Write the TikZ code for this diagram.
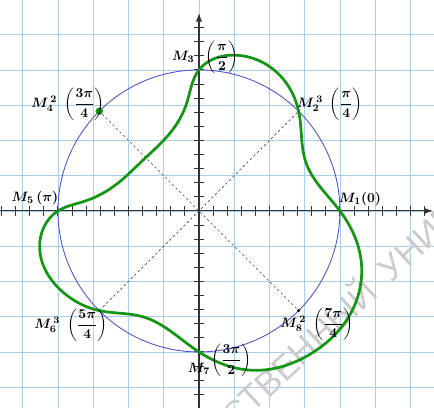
\documentclass[tikz,border=0pt]{standalone}
\usepackage{fontspec}
\usepackage{amsmath}
\usetikzlibrary{positioning, arrows.meta, calc, hobby}
\newfontfamily\wmfont{Liberation Sans}
\definecolor{gridblue}{RGB}{168,206,238}
\definecolor{curvegreen}{RGB}{20,150,20}
\definecolor{circblue}{RGB}{80,80,210}

\begin{document}
\begin{tikzpicture}[
    x=0.4cm, y=0.4cm,
    pt/.style={circle, fill=black, inner sep=0pt, minimum size=2.6pt},
    lbl/.style={font=\fontsize{11}{13}\selectfont\boldmath, inner sep=0pt},
    axis/.style={-{Latex[length=7pt,width=5pt]}, line width=0.9pt, black!80},
    tick/.style={line width=0.8pt, black!80},
    diag/.style={dash pattern=on 2pt off 2pt, line width=0.5pt, black!70},
    wm/.style={rotate=43, text=black!20, font=\wmfont\fontsize{28}{32}\selectfont, inner sep=0pt}
]
    \useasboundingbox (-14.11,-13.97) rectangle (16.67,14.96);
    \clip (-14.11,-13.97) rectangle (16.67,14.96);
    % grid
    \draw[gridblue, line width=0.6pt] (-15,-14) grid (17,15);
    % watermark
    \node[wm, anchor=base east] (wm1) at (12.8,-6.0) {ГОСУДАРСТВЕННЫЙ};
    \node[wm, anchor=base west] (wm2) at ($(wm1.base east)+(43:1.2)$) {УНИВЕРСИТЕТ};

    % axes
    \draw[axis] (-14.2,0) -- (16.6,0);
    \draw[axis] (0,-14.1) -- (0,14.05);
    \foreach \i in {-14,...,16} \draw[tick] (\i,-0.35) -- (\i,0.35);
    \foreach \j in {-13,...,13} \draw[tick] (-0.35,\j) -- (0.35,\j);

    % circle and points
    \draw[circblue, line width=0.7pt] (0,0) circle (10);
    \node[pt] (m1) at (0:10) {};
    \node[pt] (m2) at (45:10) {};
    \node[pt] (m3) at (90:10) {};
    \node[circle, fill=curvegreen, inner sep=0pt, minimum size=6pt] (m4) at (135:10) {};
    \node[pt] (m5) at (180:10) {};
    \node[pt] (m6) at (225:10) {};
    \node[pt] (m7) at (270:10) {};
    \node[pt] (m8) at (315:10) {};

    \draw[diag] (m2) -- (m6);
    \draw[diag] (m4) -- (m8);

    % green curve
    \draw[curvegreen, line width=2.2pt, use Hobby shortcut, closed=true]
        (10,0) .. (7.6,3.4) .. (7.07,7.07) .. (5.2,10.1) .. (2.4,11.05)
        .. (0,10) .. (-0.87,7.64) .. (-2.06,5.51) .. (-3.95,3.62)
        .. (-6.08,1.72) .. (-8.2,0.66) .. (-10,0)
        .. (-11.3,-2.6) .. (-9.6,-5.8) .. (-7.07,-7.07) .. (-4.0,-7.5)
        .. (0,-10) .. (3.8,-11.3) .. (7.9,-10.15) .. (10.9,-7.0)
        .. (11.5,-3.5);

    % labels
    \node[lbl] (t1) at (11.42,0.85) {$M_1(0)$};
    \node[lbl] (t2) at (9.29,7.59) {$M_2^{\,3}\;\left(\dfrac{\pi}{4}\right)$};
    \node[lbl] (t3) at (0.45,10.9) {$M_3\;\;\left(\dfrac{\pi}{2}\right)$};
    \node[lbl] (t4) at (-9.29,7.59) {$M_4^{\,2}\;\left(\dfrac{3\pi}{4}\right)$};
    \node[lbl] (t5) at (-11.63,0.9) {$M_5\left(\pi\right)$};
    \node[lbl] (t6) at (-9.08,-8.09) {$M_6^{\,3}\;\left(\dfrac{5\pi}{4}\right)$};
    \node[lbl] (t7) at (0.0,-11.2) {$M_7$};
    \node[lbl] (t7p) at (2.3,-10.6) {$\left(\dfrac{3\pi}{2}\right)$};
    \node[lbl] (t8) at (8.37,-8.01) {$M_8^{\,2}\;\left(\dfrac{7\pi}{4}\right)$};
\end{tikzpicture}
\end{document}
